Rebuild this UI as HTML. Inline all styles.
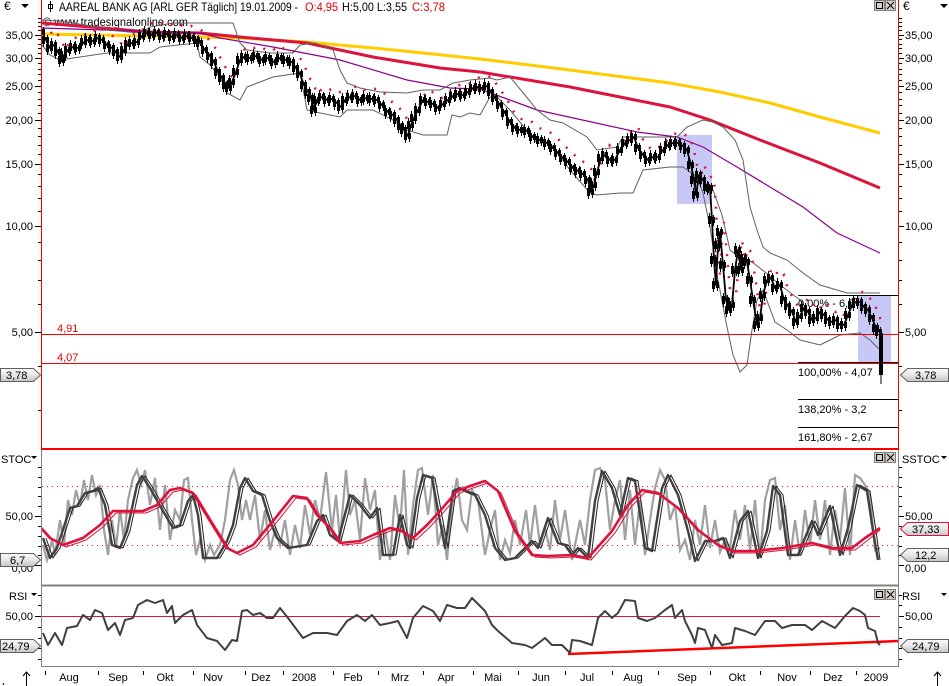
<!DOCTYPE html>
<html><head><meta charset="utf-8"><style>
html,body{margin:0;padding:0;background:#fff;}
svg{display:block;font-family:"Liberation Sans",sans-serif;}
</style></head><body>
<svg width="949" height="686" viewBox="0 0 949 686" xmlns="http://www.w3.org/2000/svg">
<defs>
<linearGradient id="fg" x1="0" y1="0" x2="0" y2="1"><stop offset="0" stop-color="#fbfbfb"/><stop offset="0.5" stop-color="#e6e6e6"/><stop offset="1" stop-color="#c4c4c4"/></linearGradient>
<clipPath id="cm"><rect x="42" y="12" width="856" height="437"/></clipPath>
<clipPath id="cs"><rect x="42" y="450" width="856" height="135"/></clipPath>
<clipPath id="cr"><rect x="42" y="587" width="856" height="79"/></clipPath>
<marker id="cd" markerUnits="userSpaceOnUse" markerWidth="12" markerHeight="24" refX="6" refY="12" orient="0" overflow="visible">
<path d="M3.5,5V19 M7.5,7V18" stroke="#000" stroke-width="1"/>
<rect x="2" y="8" width="3" height="8" fill="#000"/>
<rect x="6" y="9" width="3" height="6" fill="#000"/>
</marker>
<marker id="cd2" markerUnits="userSpaceOnUse" markerWidth="12" markerHeight="24" refX="6" refY="12" orient="0" overflow="visible">
<path d="M5.5,6V17" stroke="#000" stroke-width="1"/>
<rect x="4.5" y="9" width="2.5" height="5" fill="#000"/>
</marker>
<path id="price" d="M42,32 L46,40 50,48 54,45 58,52 62,60 64,55 68,50 73,47 78,48 84,42 88,40 93,41 98,38 102,40 107,45 112,48 116,52 120,57 124,50 128,44 132,43 137,42 142,36 147,33 152,35 157,33 162,36 167,34 172,37 177,35 182,38 187,36 192,38 197,40 200,43 205,50 210,56 214,62 218,72 222,78 226,85 229,88 232,82 236,72 240,60 244,57 250,58 256,56 262,60 268,58 274,62 280,58 286,60 292,62 296,68 300,74 304,85 308,92 311,98 314,110 317,100 322,97 327,100 332,99 337,103 341,107 345,100 350,97 355,96 360,100 366,98 372,99 377,100 382,105 388,112 393,115 397,120 401,126 404,130 408,136 411,125 414,118 418,110 423,100 428,102 433,104 438,108 443,104 448,100 453,96 458,94 463,95 468,92 473,88 478,87 482,88 487,86 491,92 495,98 500,105 505,113 510,122 515,128 520,130 527,131 533,137 540,140 547,143 553,148 558,153 563,158 568,162 573,168 578,171 583,174 588,180 591,192 594,185 597,172 601,158 605,155 610,160 615,160 620,150 625,143 630,140 634,137 638,148 643,155 648,160 653,157 658,157 663,150 668,145 673,143 678,143 683,146 687,150 691,165 694,180 696,195 699,175 703,180 707,187 710,188 712,220 714,260 716,285 718,245 720,232 723,265 726,300 729,310 732,305 735,270 738,250 741,270 744,258 747,262 750,280 753,300 757,325 760,318 763,295 767,280 771,278 775,288 780,285 784,300 788,306 792,312 796,322 800,316 804,308 808,312 812,320 816,318 820,312 824,315 828,320 832,322 836,320 840,325 844,325 848,315 852,305 856,302 860,302 864,307 868,310 872,318 876,328 879,332"/>
</defs>

<rect x="677" y="135" width="35" height="69" fill="#c8c8f6"/>
<rect x="858" y="295" width="33" height="67" fill="#c8c8f6"/>

<!-- header -->
<text x="4" y="10" font-size="12">€</text>
<path d="M21,4 L29,4 25,8 Z" fill="#000"/>
<path d="M50.5,1 V12 M48.5,4.5 h4 v4 h-4 Z" stroke="#000" fill="#fff" stroke-width="1"/>
<g font-size="12">
<text x="59" y="11" textLength="239" lengthAdjust="spacingAndGlyphs">AAREAL BANK AG [ARL GER  Täglich] 19.01.2009 -</text>
<text x="305" y="11" fill="#e00000" textLength="33" lengthAdjust="spacingAndGlyphs">O:4,95</text>
<text x="342" y="11" textLength="65" lengthAdjust="spacingAndGlyphs">H:5,00 L:3,55</text>
<text x="412" y="11" fill="#e00000" textLength="33" lengthAdjust="spacingAndGlyphs">C:3,78</text>
<text x="43" y="26" textLength="145" lengthAdjust="spacingAndGlyphs">© www.tradesignalonline.com</text>
</g>
<g stroke="#808080" fill="#d4d0c8" stroke-width="1">
<rect x="874.5" y="0.5" width="10" height="10"/><rect x="885.5" y="0.5" width="10" height="10"/>
<rect x="874.5" y="452.5" width="10" height="10"/><rect x="885.5" y="452.5" width="10" height="10"/>
<rect x="874.5" y="589.5" width="10" height="10"/><rect x="885.5" y="589.5" width="10" height="10"/>
</g>
<g stroke="#000" fill="none" stroke-width="1">
<rect x="876.5" y="2.5" width="6" height="6"/><path d="M887,2 L894,9 M894,2 L887,9"/>
<rect x="876.5" y="454.5" width="6" height="6"/><path d="M887,454 L894,461 M894,454 L887,461"/>
<rect x="876.5" y="591.5" width="6" height="6"/><path d="M887,591 L894,598 M894,591 L887,598"/>
</g>

<!-- main panel -->
<g clip-path="url(#cm)">
<polyline fill="none" stroke="#ffcc00" stroke-width="3" points="42,34 200,37 240,38 307,42 373,48 423,53 480,59 570,70 670,83 720,92 770,103 820,117 880,133"/>
<polyline fill="none" stroke="#dc143c" stroke-width="3" points="42,23 150,32 200,33 240,37 307,43 373,57 440,68 480,72 570,87 670,107 710,120 760,140 820,163 880,188"/>
<polyline fill="none" stroke="#8b008b" stroke-width="1.2" points="42,28 200,33 220,38 273,47 340,60 407,80 450,88 480,89 537,110 637,132 677,137 703,147 737,167 770,187 803,207 837,233 880,253"/>
<polyline fill="none" stroke="#606060" stroke-width="1" points="42,20 60,21 73,23 97,27 107,30 140,33 150,27 173,23 197,23 207,23 233,23 240,43 247,50 270,53 293,53 300,45 315,43 333,50 340,70 347,83 360,88 380,92 407,93 423,90 440,90 453,83 470,80 490,78 497,80 510,77 525,95 537,110 550,120 563,123 587,137 597,150 617,147 623,137 647,137 677,137 687,127 703,120 713,122 723,127 735,140 743,160 750,207 757,230 763,247 770,253 787,260 803,273 820,285 837,290 847,293 880,293"/>
<polyline fill="none" stroke="#606060" stroke-width="1" points="42,45 50,55 60,60 80,57 107,53 150,53 160,47 197,43 200,57 210,65 220,77 227,93 240,100 247,87 273,77 300,73 307,110 320,113 340,117 347,110 373,110 393,120 407,130 423,135 447,135 452,115 460,117 470,113 480,115 490,97 497,97 510,110 537,143 550,143 570,170 590,193 597,195 620,193 633,193 643,170 670,167 683,167 697,177 703,193 710,227 718,280 727,327 733,355 740,372 747,365 752,330 757,300 763,290 775,322 787,330 800,340 820,345 840,335 860,333 870,340 880,350"/>
<polyline fill="none" stroke="#606060" stroke-width="1" points="713,190 722,215 730,250 740,258 752,262 765,272 780,285 800,300 815,320"/>
<line x1="42" y1="334.5" x2="898" y2="334.5" stroke="#ff0000" stroke-width="1"/>
<line x1="42" y1="363.5" x2="898" y2="363.5" stroke="#ff0000" stroke-width="1"/>
<g stroke="#000" stroke-width="1">
<line x1="798" y1="295.5" x2="898" y2="295.5"/>
<line x1="798" y1="362.5" x2="898" y2="362.5"/>
<line x1="798" y1="399.5" x2="898" y2="399.5"/>
<line x1="798" y1="427.5" x2="898" y2="427.5"/>
</g>
<text x="798" y="307" font-size="11">0,00% - 6,3</text>
<text x="798" y="376" font-size="11">100,00% - 4,07</text>
<text x="798" y="413" font-size="11">138,20% - 3,2</text>
<text x="798" y="441" font-size="11">161,80% - 2,67</text>
<text x="57" y="332" font-size="11" fill="#e00000">4,91</text>
<text x="57" y="361" font-size="11" fill="#e00000">4,07</text>
<use href="#price" fill="none" stroke="#dc143c" stroke-width="2.5" stroke-dasharray="2 9" transform="translate(4,-10)"/>
<use href="#price" fill="none" stroke="none" transform="translate(2,1)" marker-mid="url(#cd2)"/>
<use href="#price" fill="none" stroke="#000" stroke-width="1.8" stroke-linejoin="round" marker-start="url(#cd)" marker-mid="url(#cd)" marker-end="url(#cd)"/>
<rect x="879" y="333" width="4" height="42" fill="#000"/>
<line x1="881" y1="375" x2="881" y2="384" stroke="#000" stroke-width="1"/>
</g>

<line x1="41.5" y1="0" x2="41.5" y2="449" stroke="#ff0000" stroke-width="1"/>
<line x1="898.5" y1="0" x2="898.5" y2="449" stroke="#ff0000" stroke-width="1"/>
<line x1="41" y1="449" x2="899" y2="449" stroke="#ff0000" stroke-width="2"/>
<line x1="41.5" y1="450" x2="41.5" y2="666" stroke="#808080" stroke-width="1"/>
<line x1="898.5" y1="450" x2="898.5" y2="666" stroke="#808080" stroke-width="1"/>
<line x1="41" y1="585.5" x2="899" y2="585.5" stroke="#808080" stroke-width="2"/>
<line x1="41" y1="666.5" x2="899" y2="666.5" stroke="#808080" stroke-width="1"/>

<g stroke="#000" stroke-width="1">
<path d="M35,35.5H41 M35,58.5H41 M35,86.5H41 M35,120.5H41 M35,164.5H41 M35,226.5H41 M35,332.5H41
M899,35.5H904 M899,58.5H904 M899,86.5H904 M899,120.5H904 M899,164.5H904 M899,226.5H904 M899,332.5H904"/>
<path d="M38,18.5h3 M38,22.5h3 M38,26.5h3 M38,30.5h3 M38,39.5h3 M38,44.5h3 M38,48.5h3 M38,53.5h3 M38,63.5h3 M38,69.5h3 M38,74.5h3 M38,80.5h3 M38,92.5h3 M38,99.5h3 M38,105.5h3 M38,113.5h3 M38,128.5h3 M38,136.5h3 M38,145.5h3 M38,154.5h3 M38,174.5h3 M38,186.5h3 M38,198.5h3 M38,211.5h3 M38,242.5h3 M38,260.5h3 M38,280.5h3 M38,304.5h3 M38,366.5h3 M38,410.5h3
M899,18.5h3 M899,22.5h3 M899,26.5h3 M899,30.5h3 M899,39.5h3 M899,44.5h3 M899,48.5h3 M899,53.5h3 M899,63.5h3 M899,69.5h3 M899,74.5h3 M899,80.5h3 M899,92.5h3 M899,99.5h3 M899,105.5h3 M899,113.5h3 M899,128.5h3 M899,136.5h3 M899,145.5h3 M899,154.5h3 M899,174.5h3 M899,186.5h3 M899,198.5h3 M899,211.5h3 M899,242.5h3 M899,260.5h3 M899,280.5h3 M899,304.5h3 M899,366.5h3 M899,410.5h3"/>
</g>
<g font-size="11">
<text x="33" y="39" text-anchor="end">35,00</text>
<text x="33" y="62" text-anchor="end">30,00</text>
<text x="33" y="90" text-anchor="end">25,00</text>
<text x="33" y="124" text-anchor="end">20,00</text>
<text x="33" y="168" text-anchor="end">15,00</text>
<text x="33" y="230" text-anchor="end">10,00</text>
<text x="33" y="336" text-anchor="end">5,00</text>
<text x="905" y="39">35,00</text>
<text x="905" y="62">30,00</text>
<text x="905" y="90">25,00</text>
<text x="905" y="124">20,00</text>
<text x="905" y="168">15,00</text>
<text x="905" y="230">10,00</text>
<text x="905" y="336">5,00</text>
<text x="903" y="10" font-size="12">€</text>
</g>
<path d="M940,4 L948,4 944,8 Z" fill="#000"/>

<polygon points="0.5,368.5 33.5,368.5 40.5,375 33.5,381.5 0.5,381.5" fill="url(#fg)" stroke="#606060"/>
<text x="6" y="379" font-size="11">3,78</text>
<polygon points="900.5,375 907.5,368.5 948.5,368.5 948.5,381.5 907.5,381.5" fill="url(#fg)" stroke="#606060"/>
<text x="915" y="379" font-size="11">3,78</text>

<!-- STOC -->
<g clip-path="url(#cs)">
<line x1="42" y1="486.5" x2="898" y2="486.5" stroke="#dc143c" stroke-width="1" stroke-dasharray="1 4"/>
<line x1="42" y1="545.5" x2="898" y2="545.5" stroke="#dc143c" stroke-width="1" stroke-dasharray="1 4"/>
<polyline fill="none" stroke="#a0a0a0" stroke-width="2.2" points="43,545 47,560 52,540 55,555 60,520 64,545 68,500 72,515 76,490 80,505 84,480 88,500 92,475 96,495 100,485 104,530 108,555 112,520 116,548 120,510 124,540 128,500 133,478 137,470 141,485 145,470 150,505 155,478 160,530 165,485 170,540 175,510 180,520 184,480 188,478 192,520 196,555 200,540 205,560 210,545 214,555 220,545 225,520 230,480 234,470 238,485 242,520 246,500 250,520 255,495 260,540 265,510 270,550 275,530 280,545 285,520 290,555 295,525 300,548 305,505 310,535 315,500 320,520 326,472 332,530 336,495 340,540 346,470 350,515 355,500 360,540 365,478 370,510 375,490 380,560 385,530 390,560 395,495 400,530 404,470 408,555 413,505 418,470 422,468 428,515 433,475 438,545 443,525 447,560 452,505 457,478 462,520 467,530 472,490 478,500 485,555 490,530 495,510 500,560 505,540 510,553 515,520 520,545 526,510 530,545 535,505 540,545 545,528 550,550 555,500 560,540 565,510 572,560 580,520 585,545 590,500 595,470 600,468 605,480 610,530 615,500 620,480 625,540 630,490 635,545 640,500 645,555 650,520 655,488 660,470 665,480 670,520 675,505 680,550 685,540 690,560 695,520 700,545 705,505 710,548 715,520 720,552 725,540 730,548 735,510 740,540 745,505 750,550 755,500 760,558 765,500 770,480 775,478 780,530 785,505 790,560 795,520 800,556 805,510 810,545 815,500 820,540 825,500 830,555 835,510 840,540 845,488 850,555 855,475 860,478 865,485 870,495 875,550 880,548"/>
<g fill="none" stroke-linejoin="round">
<polyline stroke="#202020" stroke-width="1" transform="translate(3,0)" points="43,538 50,558 57,548 70,508 77,506 85,493 93,491 98,488 105,505 112,545 120,548 127,531 137,485 142,476 150,488 163,511 173,528 180,525 188,501 193,495 198,515 203,558 217,558 227,541 233,525 240,488 245,478 253,491 262,495 270,521 277,538 288,548 307,545 317,521 323,515 330,535 338,541 350,495 360,505 370,518 377,508 383,555 393,555 400,515 407,545 410,548 417,498 423,475 432,478 445,548 453,491 460,488 465,491 475,495 485,515 495,548 505,560 515,558 525,548 532,541 538,548 548,518 558,543 565,545 572,555 578,548 588,558 595,501 602,471 612,488 620,515 628,478 635,481 645,548 652,551 662,488 668,475 678,495 688,531 695,561 705,541 715,541 723,538 730,558 740,521 748,511 758,558 767,531 773,486 780,495 788,555 798,555 812,521 818,535 830,506 840,555 848,528 857,485 867,491 873,531 877,560"/>
<polyline stroke="#404040" stroke-width="2.4" points="43,538 50,558 57,548 70,508 77,506 85,493 93,491 98,488 105,505 112,545 120,548 127,531 137,485 142,476 150,488 163,511 173,528 180,525 188,501 193,495 198,515 203,558 217,558 227,541 233,525 240,488 245,478 253,491 262,495 270,521 277,538 288,548 307,545 317,521 323,515 330,535 338,541 350,495 360,505 370,518 377,508 383,555 393,555 400,515 407,545 410,548 417,498 423,475 432,478 445,548 453,491 460,488 465,491 475,495 485,515 495,548 505,560 515,558 525,548 532,541 538,548 548,518 558,543 565,545 572,555 578,548 588,558 595,501 602,471 612,488 620,515 628,478 635,481 645,548 652,551 662,488 668,475 678,495 688,531 695,561 705,541 715,541 723,538 730,558 740,521 748,511 758,558 767,531 773,486 780,495 788,555 798,555 812,521 818,535 830,506 840,555 848,528 857,485 867,491 873,531 878,560"/>
<polyline stroke="#dc143c" stroke-width="1" transform="translate(3,2)" points="41,528 50,538 63,545 83,538 100,525 113,511 130,511 143,511 157,505 170,490 180,488 193,493 210,521 227,548 237,553 253,545 273,521 293,496 307,498 317,515 330,528 340,543 360,541 373,535 390,528 400,530 413,538 427,525 440,511 457,491 470,486 485,481 498,491 515,531 532,555 548,556 572,555 588,558 612,531 628,505 642,490 658,493 678,508 698,530 718,545 732,551 755,551 782,548 812,543 832,548 852,548 865,538 877,528"/>
<polyline stroke="#dc143c" stroke-width="2.6" points="41,528 50,538 63,545 83,538 100,525 113,511 130,511 143,511 157,505 170,490 180,488 193,493 210,521 227,548 237,553 253,545 273,521 293,496 307,498 317,515 330,528 340,543 360,541 373,535 390,528 400,530 413,538 427,525 440,511 457,491 470,486 485,481 498,491 515,531 532,555 548,556 572,555 588,558 612,531 628,505 642,490 658,493 678,508 698,530 718,545 732,551 755,551 782,548 812,543 832,548 852,548 865,538 880,528"/>
</g>
</g>
<g stroke="#000" stroke-width="1">
<path d="M38,467.5h3 M38,477.5h3 M38,487.5h3 M38,496.5h3 M38,506.5h3 M35,516.5h6 M38,526.5h3 M38,536.5h3 M38,546.5h3 M38,555.5h3 M35,565.5h6
M899,467.5h3 M899,477.5h3 M899,487.5h3 M899,496.5h3 M899,506.5h3 M899,516.5h5 M899,526.5h3 M899,536.5h3 M899,546.5h3 M899,555.5h3 M899,565.5h5"/>
</g>
<g font-size="11">
<text x="1" y="463">STOC</text>
<text x="33" y="520" text-anchor="end">50,00</text>
<text x="33" y="572" text-anchor="end">0,00</text>
<text x="902" y="463">SSTOC</text>
<text x="905" y="520">50,00</text>
<text x="905" y="572">0,00</text>
</g>
<path d="M31,456 L37,456 34,459 Z M941,456 L947,456 944,459 Z" fill="#000"/>
<polygon points="0.5,553.5 33.5,553.5 40.5,560 33.5,566.5 0.5,566.5" fill="url(#fg)" stroke="#606060"/>
<text x="10" y="564" font-size="11">6,7</text>
<polygon points="900.5,529 907.5,522.5 948.5,522.5 948.5,535.5 907.5,535.5" fill="url(#fg)" stroke="#dc143c"/>
<text x="912" y="533" font-size="11">37,33</text>
<polygon points="900.5,555 907.5,548.5 948.5,548.5 948.5,561.5 907.5,561.5" fill="url(#fg)" stroke="#606060"/>
<text x="915" y="559" font-size="11">12,2</text>

<!-- RSI -->
<g clip-path="url(#cr)">
<line x1="42" y1="616.5" x2="880" y2="616.5" stroke="#dc143c" stroke-width="1"/>
<line x1="568" y1="654" x2="898" y2="641" stroke="#ff0000" stroke-width="2.5"/>
<polyline fill="none" stroke="#404040" stroke-width="2" stroke-linejoin="round" points="43,633 48,645 55,633 62,645 67,628 77,626 83,615 90,620 95,610 102,613 108,630 115,623 120,635 125,620 133,618 138,605 147,600 155,603 163,600 167,613 172,606 175,623 183,615 192,610 197,625 207,638 217,641 225,650 232,640 237,641 242,611 247,610 253,615 260,613 267,618 273,618 280,608 288,618 297,630 303,638 313,633 327,633 337,635 347,621 357,615 365,621 372,615 380,625 390,623 398,621 407,638 413,618 423,606 433,611 440,621 447,605 457,608 465,608 472,598 485,611 492,625 498,631 512,643 525,645 532,648 545,638 552,645 562,645 570,653 572,640 580,641 592,645 598,618 605,611 612,618 618,613 625,600 635,601 638,618 647,621 655,618 665,610 672,605 675,618 682,610 685,621 692,635 695,643 698,628 705,630 712,648 715,635 722,645 732,643 735,628 745,631 755,635 765,621 775,621 782,628 792,625 805,625 812,630 822,621 835,628 845,616 853,608 860,611 865,615 868,628 875,631 878,643 880,645"/>
</g>
<g stroke="#000" stroke-width="1">
<path d="M38,595.5h3 M38,605.5h3 M35,616.5h6 M38,627.5h3 M38,638.5h3 M38,648.5h3 M38,659.5h3
M899,595.5h3 M899,605.5h3 M899,616.5h5 M899,627.5h3 M899,638.5h3 M899,648.5h3 M899,659.5h3"/>
</g>
<g font-size="11">
<text x="9" y="600">RSI</text>
<text x="33" y="620" text-anchor="end">50,00</text>
<text x="902" y="600">RSI</text>
<text x="905" y="620">50,00</text>
</g>
<path d="M31,593 L37,593 34,596 Z M941,593 L947,593 944,596 Z" fill="#000"/>
<polygon points="0.5,639.5 33.5,639.5 40.5,646 33.5,652.5 0.5,652.5" fill="url(#fg)" stroke="#606060"/>
<text x="2" y="650" font-size="11">24,79</text>
<polygon points="900.5,646 907.5,639.5 948.5,639.5 948.5,652.5 907.5,652.5" fill="url(#fg)" stroke="#606060"/>
<text x="912" y="650" font-size="11">24,79</text>

<path d="M45.5,671v4 M98.5,671v4 M143.5,671v4 M193.5,671v4 M245.5,671v4 M283.5,671v4 M333.5,671v4 M378.5,671v4 M423.5,671v4 M473.5,671v4 M518.5,671v4 M565.5,671v4 M612.5,671v4 M658.5,671v4 M710.5,671v4 M760.5,671v4 M810.5,671v4 M856.5,671v4" stroke="#000"/>
<g font-size="11" text-anchor="middle">
<text x="69" y="681">Aug</text><text x="118" y="681">Sep</text><text x="165" y="681">Okt</text><text x="213" y="681">Nov</text><text x="261" y="681">Dez</text><text x="304" y="681">2008</text><text x="353" y="681">Feb</text><text x="400" y="681">Mrz</text><text x="446" y="681">Apr</text><text x="493" y="681">Mai</text><text x="541" y="681">Jun</text><text x="587" y="681">Jul</text><text x="633" y="681">Aug</text><text x="687" y="681">Sep</text><text x="737" y="681">Okt</text><text x="787" y="681">Nov</text><text x="833" y="681">Dez</text><text x="876" y="681">2009</text>
</g>
<path d="M26.5,672V686 M23,676 L26.5,672 30,676 M937.5,672V686 M934,676 L937.5,672 941,676" stroke="#000" stroke-width="1" fill="none"/>
<path d="M3,683 l1,2" stroke="#000" stroke-width="1"/>
</svg>
</body></html>
